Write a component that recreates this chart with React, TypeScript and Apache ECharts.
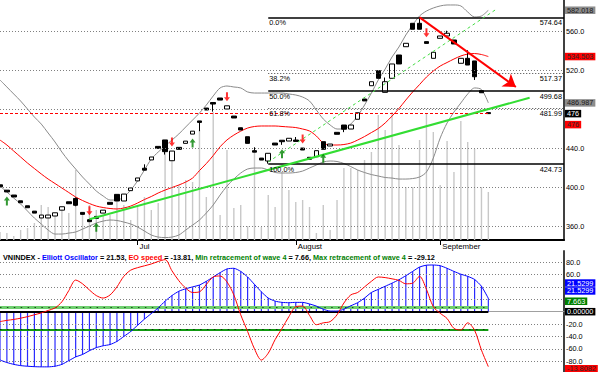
import React, { useEffect, useRef } from 'react';
import * as echarts from 'echarts';

const FONT = '"Liberation Sans", Arial, sans-serif';
const FS = 7.3;

// ---------- categories (daily slots, last 11 are empty space) ----------
const slotCount = 83;
const dayLabels: string[] = Array.from({ length: slotCount }, (_, i) => `d${i}`);
const monthTickIndex = [20, 43, 64];
const monthNames = ['Jul', 'August', 'September'];

// ---------- price data (OHLC) ----------
const opens = [403, 397.5, 392.5, 386.6, 381.5, 376, 369, 369, 371, 377,
  385.6, 389, 374.7, 367.2, 370.6, 374, 385, 393.2, 386.4, 397,
  407, 420, 428.5, 442.4, 449, 427.7, 441.4, 445.5, 455, 468.5,
  481.7, 487.4, 492, 480.7, 473.5, 461.5, 452.3, 438, 430.4, 427.4,
  445.8, 448.7, 447.9, 448.9, 440.7, 431.2, 431.8, 447.2, 442.8, 456.8,
  464.3, 460.2, 470.2, 491, 504.6, 520, 497.8, 512.2, 536.1, 544.6,
  568.6, 568.6, 549.8, 532.7, 553.2, 555.6, 551.5, 527.6, 532.7, 530,
  499.5, 477];
const closes = [401, 395.7, 390.5, 384.6, 379.5, 374, 372, 372, 374.3, 380.5,
  383.6, 382, 372.7, 365.2, 368.6, 377, 383, 386.4, 393.5, 399.8,
  410, 418, 431.5, 440.4, 437, 437.6, 439.4, 447.8, 458, 467,
  479.7, 485.8, 489.9, 484, 471.5, 459.2, 445.5, 436.5, 428.4, 435.3,
  443.8, 447.2, 450.7, 447.5, 438.7, 429.2, 438, 439.4, 444.8, 454.8,
  460, 464.3, 476.9, 489, 508.7, 512.2, 508.7, 526.9, 526.9, 548.1,
  562.5, 562.5, 548, 538.9, 555.6, 558.4, 547.4, 532.7, 525.8, 513.8,
  497.4, 476];
const lows = [401, 395.7, 390.5, 384.6, 379.5, 374, 369, 369, 371, 377,
  383.6, 381, 372.7, 365.2, 368.6, 374, 383, 386.4, 386.4, 397,
  407, 418, 428.5, 440.4, 434, 427.7, 439.4, 445.5, 455, 458,
  479.7, 478, 489.9, 480.7, 471.5, 459.2, 445.5, 436.5, 428.4, 424.73,
  443.8, 444, 447.9, 447.5, 438.7, 429.2, 431.8, 439.4, 442.8, 454.8,
  457, 460.2, 470.2, 489, 504.6, 512.2, 497.8, 512.2, 526.9, 544.6,
  562.5, 562.5, 548, 532.7, 553.2, 555.6, 547.4, 527.6, 525.8, 510.5,
  497.4, 476];
const highs = [403, 397.5, 392.5, 386.6, 381.5, 376, 372, 372, 374.3, 380.5,
  385.6, 390, 374.7, 367.2, 370.6, 377, 385, 393.2, 393.5, 399.8,
  410, 424, 431.5, 442.4, 449, 437.6, 441.4, 447.8, 458, 468.5,
  481.7, 487.4, 492, 484, 473.5, 461.5, 452.3, 441.5, 430.4, 435.3,
  445.8, 448.7, 450.7, 452, 440.7, 431.2, 438, 447.2, 444.8, 456.8,
  464.3, 464.3, 476.9, 491, 508.7, 520, 513, 526.9, 536.1, 548.1,
  568.6, 574.64, 549.8, 538.9, 555.6, 561, 551.5, 532.7, 541, 530,
  499.5, 477];
const volumes = [8, 7, 4, 10, 12, 17, 35, 33, 24, 32,
  27, 70, 27, 35, 30, 24, 25, 40, 35, 20,
  35, 43, 30, 37, 95, 80, 55, 60, 58, 110,
  43, 128, 25, 90, 32, 35, 14, 90, 13, 45,
  33, 68, 50, 38, 40, 33, 7, 35, 10, 40,
  72, 72, 70, 80, 88, 125, 110, 128, 95, 53,
  53, 100, 127, 108, 55, 99, 68, 119, 98, 91,
  53, 48];
const bbUpper = [510.5, 503.3, 496.1, 488.9, 480.7, 472.5, 465.3, 456.1, 446.9, 436.6,
  427.4, 419.2, 411, 403.8, 396.6, 391.5, 387.4, 387.4, 390.5, 397.6,
  406.9, 418.2, 429.4, 436.6, 442.8, 448.9, 455.1, 462.3, 469.4, 476.6,
  484.8, 494.1, 502.3, 504.3, 503.3, 502.3, 498.2, 497.1, 497.1, 497.1,
  497.1, 497.1, 496.1, 495.1, 493, 488.9, 479.7, 470.5, 464.3, 460.2,
  460.2, 465.3, 473.5, 484.8, 497.1, 510.5, 521.7, 534.1, 544.3, 556.6,
  566.9, 576.1, 581.2, 584.3, 586.4, 587.4, 587.4, 586.4, 580.2, 575.1,
  576.1, 582.0];
const bbLower = [401.7, 395.6, 389.4, 383.3, 376.1, 368.9, 362.8, 356.6, 352.5, 352.5,
  353.5, 354.6, 357.6, 360.7, 363.8, 365.8, 366.9, 366.4, 364.8, 362.8,
  359.7, 355.6, 351.5, 349.4, 348.9, 349.4, 351.5, 356.6, 361.7, 366.9,
  374.1, 382.3, 392.5, 401.7, 408.9, 415.1, 419.2, 420.2, 420.2, 418.2,
  415.6, 415.1, 415.1, 415.6, 417.1, 420.2, 423.3, 426.4, 427.4, 426.9,
  424.8, 421.7, 418.2, 415.6, 413.5, 412, 410.5, 409.9, 408.9, 408.9,
  409.4, 411, 416.1, 430.5, 451, 466.4, 477.6, 486.9, 496.1, 502.3,
  500.7, 487.0];
const movingAvg = [448.9, 443.8, 437.6, 431.5, 425.3, 419.7, 414.1, 408.9, 404.3, 399.7,
  395.1, 390.5, 386.9, 383.8, 381.2, 379.7, 378.7, 378.2, 379.2, 381.2,
  384.3, 387.9, 391, 394.6, 397.6, 400.2, 402.8, 405.8, 409.9, 417.6,
  424.8, 433, 442, 449, 454, 458, 461.2, 462.8, 463.3, 463.3,
  463.3, 462.8, 462.3, 461.7, 460.2, 458.2, 453, 445.8, 443.8, 443.8,
  444.3, 445.8, 448.9, 452.5, 456.6, 460.7, 466.4, 473.5, 481.2, 489.9,
  498.2, 505.8, 513.5, 519.7, 524.8, 528.4, 532, 535.1, 537.1, 537.6,
  536.6, 534.5];

const sellSignals = [13, 25, 33, 44, 62];
const buySignals = [1, 14, 28, 41, 47];

const priceTicks = [360, 400, 440, 480, 520, 560];
const fibLevels = [574.64, 517.37, 499.68, 481.99, 424.73];
const fibLabels = ['0.0%', '38.2%', '50.0%', '61.8%', '100.0%'];
const fibStartIndex = 39;
const stopLevel = 476;
const stopEndIndex = 71;
const supportLine = [[13, 367.6], [77, 492.3]];
const channelLine = [[39, 426.4], [72, 582.3]];
const downTrendLine = [[61, 574.64], [75, 503.3]];

// ---------- oscillator panel ----------
const eoValues = [-78, -82, -85, -87, -88, -88.7, -89, -89, -88, -85,
  -79, -73, -69, -63, -58, -55, -53, -48, -40, -32,
  -22, -12, -3, 6, 17, 26, 33, 37, 40, 43,
  49, 56, 63, 69, 70, 65, 56, 44, 32, 22,
  17, 15, 14.5, 15, 15, 12.5, 9, 4, 1, 1,
  4, 9.5, 14.5, 22, 31, 36, 41, 46, 51.5, 58,
  65, 72, 75, 75.3, 74.2, 70, 65, 60.5, 57, 52,
  41, 21.53];
const eoSpeed = [-16, -14, -12.5, -10.5, -8, -5, -2, 2, 6, 16,
  34, 51, 45, 35, 26, 22, 27, 40, 57, 67,
  71, 74, 77, 81, 84, 66, 50, 38, 31, 32,
  44, 56, 57.6, 48, 27, -5, -32, -60, -78, -67,
  -45, -27, -8, 8, 9, -6, -21, -18, -16, -5,
  14, 27, 31, 40, 49, 56, 55, 53, 50.5, 45,
  46, 57, 36, 8, -2.6, -11, -27, -29.5, -18, -30,
  -62, -88.7];
const oscTicks = [80, 60, 40, 20, -20, -40, -60, -80];
// tick labels hidden behind the value boxes in the reference
const coveredTicks = [480, 40, 20];
const minRetrace = 7.663;
const maxRetrace = -29.12;
const eoLastText = '21.53';
const eoSpeedLastText = '-13.81';
const minRetraceText = '7.66';
const maxRetraceText = '-29.12';

// right-hand value boxes
const priceBoxes = [
  { value: 582.018, text: '582.018', bg: '#8c8c8c', fg: '#1a1a1a', nudge: 0 },
  { value: 534.503, text: '534.503', bg: '#ff0000', fg: '#2a2a2a', nudge: 0 },
  { value: 486.987, text: '486.987', bg: '#8c8c8c', fg: '#1a1a1a', nudge: 0 },
  { value: 476, text: '476', bg: '#000000', fg: '#ffffff', nudge: 0 },
  { value: 476, text: '476', bg: '#ff0000', fg: '#2a2a2a', nudge: 11 },
];
const oscBoxes = [
  { value: 21.5299, text: '21.5299', bg: '#0000ff', fg: '#ffffff', nudge: -15.3 },
  { value: 21.5299, text: '21.5299', bg: '#0000ff', fg: '#ffffff', nudge: -7.4 },
  { value: 7.663, text: '7.663', bg: '#008000', fg: '#ffffff', nudge: -5.7 },
  { value: 0, text: '0.00000', bg: '#000000', fg: '#ffffff', nudge: 0 },
  { value: -88.7, text: '-13.8082', bg: '#ff0000', fg: '#2a2a2a', nudge: 2.2 },
];

const PRICE_MIN = 346.4;
const PRICE_MAX = 592.5;
const OSC_MIN = -97.3;
const OSC_MAX = 97.9;

function buildOption(): any {
  const candleData = opens.map((o, i) => [o, closes[i], lows[i], highs[i]]);
  const lastSlot = slotCount - 1;
  const gridLabel = { show: true, position: 'end', distance: 2, color: '#000', fontSize: FS, fontFamily: FONT };
  const dotted = { type: [1, 2], color: '#808080', width: 1 };
  const tickItem = (v: number) => ({
    yAxis: v,
    label: { show: !coveredTicks.includes(v), formatter: v.toFixed(1) },
  });

  const fibItems: any[] = [];
  fibLevels.forEach((v, k) => {
    const solid = k % 2 === 0;
    const ls = solid ? { type: 'solid', color: '#000', width: 1.5 } : { type: [1, 2], color: '#404040', width: 1 };
    fibItems.push([
      { coord: [fibStartIndex, v], lineStyle: ls, label: { show: true, position: 'insideStartBottom', formatter: fibLabels[k], distance: [1, 2] } },
      { coord: [lastSlot, v] },
    ]);
    fibItems.push([
      { coord: [fibStartIndex, v], lineStyle: { color: 'rgba(0,0,0,0)', width: 0.1 }, label: { show: true, color: '#000', position: 'insideEndBottom', formatter: v.toFixed(2), distance: [2, 2] } },
      { coord: [lastSlot, v] },
    ]);
  });

  const richTitle = {
    k: { color: '#000', fontSize: FS, fontFamily: FONT },
    b: { color: '#0000ff', fontSize: FS, fontFamily: FONT },
    r: { color: '#ff0000', fontSize: FS, fontFamily: FONT },
    g: { color: '#008000', fontSize: FS, fontFamily: FONT },
  };
  const titleText =
    `{k|VNINDEX - }{b|Elliott Oscillator}{k| = ${eoLastText}, }{r|EO speed}{k| = ${eoSpeedLastText}, }` +
    `{g|Min retracement of wave 4}{k| = ${minRetraceText}, }{g|Max retracement of wave 4}{k| = ${maxRetraceText}}`;

  return {
    animation: false,
    backgroundColor: '#ffffff',
    textStyle: { fontFamily: FONT },
    title: { text: titleText, left: 3, top: 254, padding: 0, textStyle: { rich: richTitle, fontSize: FS } },
    grid: [
      { left: 0, top: 0, width: 564, height: 240 },
      { left: 0, top: 251, width: 564, height: 121 },
    ],
    xAxis: [
      {
        type: 'category', gridIndex: 0, data: dayLabels, boundaryGap: false,
        axisLine: { show: true, lineStyle: { color: '#000', width: 2 } },
        axisTick: { show: true, length: 5, interval: (i: number) => monthTickIndex.includes(i), lineStyle: { color: '#000' } },
        axisLabel: {
          show: true, interval: (i: number) => monthTickIndex.includes(i),
          formatter: (_v: string, i: number) => monthNames[monthTickIndex.indexOf(i)] || '',
          align: 'left', margin: 2, color: '#000', fontSize: FS + 0.5, fontFamily: FONT, padding: [0, 0, 0, 2],
        },
        splitLine: { show: false },
      },
      {
        type: 'category', gridIndex: 1, data: dayLabels, boundaryGap: false, position: 'top',
        axisLine: { show: true, lineStyle: { color: '#a0a0a0', width: 1 } },
        axisTick: { show: false }, axisLabel: { show: false }, splitLine: { show: false },
      },
    ],
    yAxis: [
      {
        type: 'value', gridIndex: 0, position: 'right', min: PRICE_MIN, max: PRICE_MAX,
        axisLine: { show: true, lineStyle: { color: '#404040', width: 2 } },
        axisTick: { show: false }, axisLabel: { show: false }, splitLine: { show: false },
      },
      { type: 'value', gridIndex: 0, min: 0, max: 240, show: false },
      {
        type: 'value', gridIndex: 1, position: 'right', min: OSC_MIN, max: OSC_MAX,
        axisLine: { show: true, lineStyle: { color: '#404040', width: 2 } },
        axisTick: { show: false }, axisLabel: { show: false }, splitLine: { show: false },
      },
    ],
    series: [
      // price gridlines + axis labels
      {
        type: 'line', xAxisIndex: 0, yAxisIndex: 0, data: closes, z: 1, silent: true,
        showSymbol: false, lineStyle: { opacity: 0 },
        markLine: {
          silent: true, symbol: ['none', 'none'], animation: false,
          lineStyle: dotted, label: gridLabel,
          data: priceTicks.map(tickItem),
        },
      },
      // volume
      {
        type: 'bar', xAxisIndex: 0, yAxisIndex: 1, data: volumes, barWidth: 1.4, z: 2,
        itemStyle: { color: '#c8c8c8' }, silent: true,
      },
      // Bollinger bands and average
      { type: 'line', xAxisIndex: 0, yAxisIndex: 0, data: bbUpper, smooth: 0.3, showSymbol: false, z: 3, lineStyle: { color: '#8a8a8a', width: 1 }, silent: true },
      { type: 'line', xAxisIndex: 0, yAxisIndex: 0, data: bbLower, smooth: 0.3, showSymbol: false, z: 3, lineStyle: { color: '#8a8a8a', width: 1 }, silent: true },
      { type: 'line', xAxisIndex: 0, yAxisIndex: 0, data: movingAvg, smooth: 0.3, showSymbol: false, z: 3, lineStyle: { color: '#ff0000', width: 1 }, silent: true },
      // fib + stop line
      {
        type: 'line', xAxisIndex: 0, yAxisIndex: 0, data: closes, z: 3, silent: true,
        showSymbol: false, lineStyle: { opacity: 0 },
        markLine: {
          silent: true, symbol: ['none', 'none'], animation: false,
          label: { color: '#000', fontSize: FS, fontFamily: FONT },
          data: [
            ...fibItems,
            [
              { coord: [0, stopLevel], lineStyle: { type: [3, 2], color: '#ff0000', width: 1 }, label: { show: false } },
              { coord: [stopEndIndex, stopLevel] },
            ],
          ],
        },
      },
      // candles
      {
        type: 'candlestick', xAxisIndex: 0, yAxisIndex: 0, data: candleData, barWidth: 5, z: 4, silent: true,
        itemStyle: { color: '#ffffff', color0: '#000000', borderColor: '#000000', borderColor0: '#000000', borderWidth: 1 },
      },
      // trend lines
      {
        type: 'line', xAxisIndex: 0, yAxisIndex: 0, data: closes, z: 5, silent: true,
        showSymbol: false, lineStyle: { opacity: 0 },
        markLine: {
          silent: true, symbol: ['none', 'none'], animation: false, label: { show: false },
          data: [
            [{ coord: supportLine[0], lineStyle: { color: '#33dd33', width: 2, type: 'solid' } }, { coord: supportLine[1] }],
            [{ coord: channelLine[0], lineStyle: { color: '#44dd44', width: 1, type: [3, 3] } }, { coord: channelLine[1] }],
          ],
        },
      },
      {
        type: 'line', xAxisIndex: 0, yAxisIndex: 0, data: closes, z: 5, silent: true,
        showSymbol: false, lineStyle: { opacity: 0 },
        markLine: {
          silent: true, symbol: ['none', 'arrow'], symbolSize: 12, animation: false, label: { show: false },
          lineStyle: { color: '#ff0000', width: 2, type: 'solid' },
          data: [[{ coord: downTrendLine[0] }, { coord: downTrendLine[1] }]],
        },
      },
      // signal arrows
      {
        type: 'scatter', xAxisIndex: 0, yAxisIndex: 0, z: 6, silent: true,
        data: sellSignals.map((i) => [i, highs[i]]),
        symbol: 'path://M2,0L4,0L4,5L6,5L3,9L0,5L2,5Z', symbolSize: [6, 9], symbolOffset: [0, -9],
        itemStyle: { color: '#ff0000' },
      },
      {
        type: 'scatter', xAxisIndex: 0, yAxisIndex: 0, z: 6, silent: true,
        data: buySignals.map((i) => [i, lows[i]]),
        symbol: 'path://M3,0L6,4L4,4L4,9L2,9L2,4L0,4Z', symbolSize: [6, 9], symbolOffset: [0, 9],
        itemStyle: { color: '#008000' },
      },
      // oscillator gridlines + labels
      {
        type: 'line', xAxisIndex: 1, yAxisIndex: 2, data: eoValues, z: 1, silent: true,
        showSymbol: false, lineStyle: { opacity: 0 },
        markLine: {
          silent: true, symbol: ['none', 'none'], animation: false,
          lineStyle: dotted, label: gridLabel,
          data: oscTicks.map(tickItem),
        },
      },
      // oscillator reference lines
      {
        type: 'line', xAxisIndex: 1, yAxisIndex: 2, data: eoValues, z: 2, silent: true,
        showSymbol: false, lineStyle: { opacity: 0 },
        markLine: {
          silent: true, symbol: ['none', 'none'], animation: false, label: { show: false },
          data: [
            [{ coord: [0, minRetrace], lineStyle: { color: '#6fcf6f', width: 3, type: 'solid' } }, { coord: [stopEndIndex, minRetrace] }],
            [{ coord: [0, minRetrace], lineStyle: { color: '#1a4a1a', width: 1, type: [1.5, 5.4] } }, { coord: [stopEndIndex, minRetrace] }],
            [{ coord: [0, maxRetrace], lineStyle: { color: '#119911', width: 2, type: 'solid' } }, { coord: [stopEndIndex, maxRetrace] }],
            [{ coord: [0, maxRetrace], lineStyle: { color: '#103010', width: 1, type: [1.5, 5.4] } }, { coord: [stopEndIndex, maxRetrace] }],
          ],
        },
      },
      {
        type: 'bar', xAxisIndex: 1, yAxisIndex: 2, data: eoValues, barWidth: 1.2, z: 3, silent: true,
        itemStyle: { color: '#2a2aff' },
      },
      {
        type: 'line', xAxisIndex: 1, yAxisIndex: 2, data: eoValues, z: 4, silent: true,
        showSymbol: false, lineStyle: { opacity: 0 },
        markLine: {
          silent: true, symbol: ['none', 'none'], animation: false, label: { show: false },
          data: [[{ coord: [0, 0], lineStyle: { color: '#000', width: 2, type: 'solid' } }, { coord: [stopEndIndex, 0] }]],
        },
      },
      { type: 'line', xAxisIndex: 1, yAxisIndex: 2, data: eoValues, smooth: 0.2, showSymbol: false, z: 5, lineStyle: { color: '#0000ff', width: 1 }, silent: true },
      { type: 'line', xAxisIndex: 1, yAxisIndex: 2, data: eoSpeed, smooth: 0.3, showSymbol: false, z: 6, lineStyle: { color: '#ff0000', width: 1 }, silent: true },
    ],
  };
}

export default function App() {
  const ref = useRef<HTMLDivElement>(null);
  useEffect(() => {
    if (!ref.current) return;
    const chart = echarts.init(ref.current, null, { renderer: 'svg' });
    chart.setOption(buildOption());
    const makeBox = (b: any, axis: number) => {
      const y = (chart.convertToPixel({ yAxisIndex: axis }, b.value) as number) + b.nudge;
      return {
        type: 'text', x: 565, y, z: 100, silent: true,
        style: {
          text: b.text, fill: b.fg, backgroundColor: b.bg, padding: [0, 2, 0, 2],
          fontSize: FS, fontFamily: FONT, lineHeight: 7.5, verticalAlign: 'middle', align: 'left',
        },
      };
    };
    chart.setOption({
      graphic: [...priceBoxes.map((b) => makeBox(b, 0)), ...oscBoxes.map((b) => makeBox(b, 2))],
    });
    return () => chart.dispose();
  }, []);
  return (
    <div
      ref={ref}
      style={{ position: 'fixed', left: 0, top: 0, width: 600, height: 372, background: '#fff' }}
    />
  );
}
